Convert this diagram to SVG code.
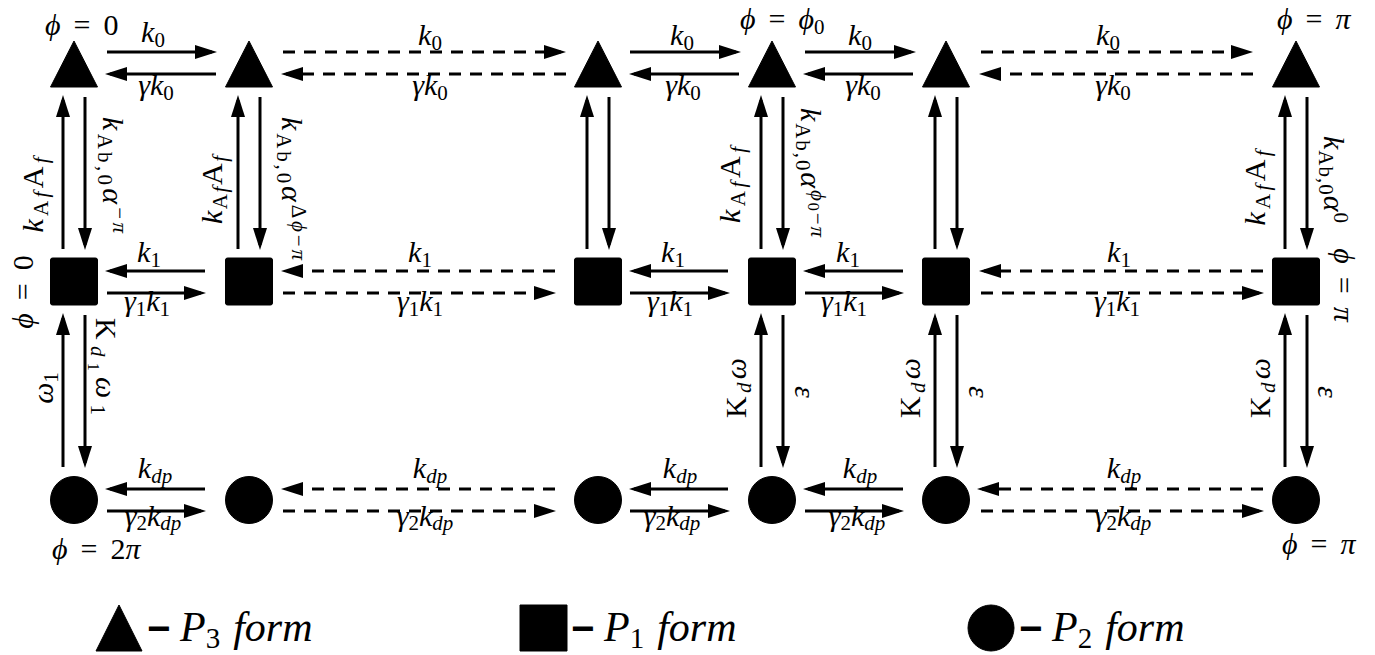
<svg xmlns="http://www.w3.org/2000/svg" width="1375" height="655" viewBox="0 0 1375 655">
<defs>
<marker id="ah" markerUnits="userSpaceOnUse" markerWidth="24" markerHeight="16" viewBox="0 -8 24 16" refX="17" refY="0" orient="auto"><path d="M0,-7 L22,0 L0,7 z" fill="#000"/></marker>
<style>
.n{fill:#000;stroke:#000;stroke-width:1;stroke-linejoin:round}
.a{stroke:#000;stroke-width:3;fill:none;marker-end:url(#ah)}
.d{stroke-dasharray:12 9}
.t{font-family:"Liberation Serif","DejaVu Serif",serif;font-size:30px;font-style:italic;fill:#000}
.r{font-style:normal}
.s{font-size:21px}
.ss{font-size:16px}
.p{font-size:30px}
.l{font-size:42px}
.ls{font-size:29px}
.m{font-family:"Liberation Sans","DejaVu Sans",sans-serif;font-weight:bold;font-style:normal;font-size:40px}
</style>
</defs>
<rect width="1375" height="655" fill="#fff"/>

<g id="t1"><polygon class="n" points="74,41 50.5,87 97.5,87"/></g>
<g id="t2"><polygon class="n" points="249,41 225.5,87 272.5,87"/></g>
<g id="t3"><polygon class="n" points="598,41 574.5,87 621.5,87"/></g>
<g id="t4"><polygon class="n" points="772,41 748.5,87 795.5,87"/></g>
<g id="t5"><polygon class="n" points="946,41 922.5,87 969.5,87"/></g>
<g id="t6"><polygon class="n" points="1296,41 1272.5,87 1319.5,87"/></g>

<g id="s1"><rect class="n" x="50.5" y="258" width="47" height="47" rx="2"/></g>
<g id="s2"><rect class="n" x="225.5" y="258" width="47" height="47" rx="2"/></g>
<g id="s3"><rect class="n" x="574.5" y="258" width="47" height="47" rx="2"/></g>
<g id="s4"><rect class="n" x="748.5" y="258" width="47" height="47" rx="2"/></g>
<g id="s5"><rect class="n" x="922.5" y="258" width="47" height="47" rx="2"/></g>
<g id="s6"><rect class="n" x="1272.5" y="258" width="47" height="47" rx="2"/></g>

<g id="c1"><circle class="n" cx="74" cy="500" r="23.5"/></g>
<g id="c2"><circle class="n" cx="249" cy="500" r="23.5"/></g>
<g id="c3"><circle class="n" cx="598" cy="500" r="23.5"/></g>
<g id="c4"><circle class="n" cx="772" cy="500" r="23.5"/></g>
<g id="c5"><circle class="n" cx="946" cy="500" r="23.5"/></g>
<g id="c6"><circle class="n" cx="1296" cy="500" r="23.5"/></g>

<g id="connectors">
<line class="a" x1="107" y1="52" x2="212" y2="52"/>
<line class="a" x1="216" y1="74" x2="110" y2="74"/>
<line class="a d" x1="283" y1="52" x2="561" y2="52"/>
<line class="a d" x1="566" y1="74" x2="286" y2="74"/>
<line class="a" x1="630" y1="52" x2="736" y2="52"/>
<line class="a" x1="739" y1="74" x2="634" y2="74"/>
<line class="a" x1="805" y1="52" x2="911" y2="52"/>
<line class="a" x1="913" y1="74" x2="808" y2="74"/>
<line class="a d" x1="981" y1="52" x2="1248" y2="52"/>
<line class="a d" x1="1253" y1="74" x2="984" y2="74"/>
<line class="a" x1="205" y1="271" x2="110" y2="271"/>
<line class="a" x1="107" y1="293" x2="201" y2="293"/>
<line class="a d" x1="555" y1="271" x2="286" y2="271"/>
<line class="a d" x1="283" y1="293" x2="551" y2="293"/>
<line class="a" x1="728" y1="271" x2="634" y2="271"/>
<line class="a" x1="630" y1="293" x2="725" y2="293"/>
<line class="a" x1="903" y1="271" x2="808" y2="271"/>
<line class="a" x1="805" y1="293" x2="899" y2="293"/>
<line class="a d" x1="1263" y1="271" x2="984" y2="271"/>
<line class="a d" x1="981" y1="293" x2="1259" y2="293"/>
<line class="a" x1="205" y1="489" x2="110" y2="489"/>
<line class="a" x1="107" y1="511" x2="201" y2="511"/>
<line class="a d" x1="555" y1="489" x2="286" y2="489"/>
<line class="a d" x1="283" y1="511" x2="551" y2="511"/>
<line class="a" x1="728" y1="489" x2="634" y2="489"/>
<line class="a" x1="630" y1="511" x2="725" y2="511"/>
<line class="a" x1="903" y1="489" x2="808" y2="489"/>
<line class="a" x1="805" y1="511" x2="899" y2="511"/>
<line class="a d" x1="1263" y1="489" x2="982" y2="489"/>
<line class="a d" x1="981" y1="511" x2="1259" y2="511"/>
<line class="a" x1="63" y1="249" x2="63" y2="100"/>
<line class="a" x1="85" y1="97" x2="85" y2="245"/>
<line class="a" x1="238" y1="249" x2="238" y2="100"/>
<line class="a" x1="260" y1="97" x2="260" y2="245"/>
<line class="a" x1="587" y1="249" x2="587" y2="100"/>
<line class="a" x1="609" y1="97" x2="609" y2="245"/>
<line class="a" x1="761" y1="249" x2="761" y2="100"/>
<line class="a" x1="783" y1="97" x2="783" y2="245"/>
<line class="a" x1="935" y1="249" x2="935" y2="100"/>
<line class="a" x1="957" y1="97" x2="957" y2="245"/>
<line class="a" x1="1285" y1="249" x2="1285" y2="100"/>
<line class="a" x1="1307" y1="97" x2="1307" y2="245"/>
<line class="a" x1="63" y1="467" x2="63" y2="318"/>
<line class="a" x1="85" y1="315" x2="85" y2="463"/>
<line class="a" x1="761" y1="467" x2="761" y2="318"/>
<line class="a" x1="783" y1="315" x2="783" y2="463"/>
<line class="a" x1="935" y1="467" x2="935" y2="318"/>
<line class="a" x1="957" y1="315" x2="957" y2="463"/>
<line class="a" x1="1285" y1="467" x2="1285" y2="318"/>
<line class="a" x1="1307" y1="315" x2="1307" y2="463"/>
</g>

<g id="edge-labels" class="t">
<text x="153" y="42" text-anchor="middle">k<tspan class="s r" dy="5">0</tspan></text>
<text x="156" y="95" text-anchor="middle">γk<tspan class="s r" dy="5">0</tspan></text>
<text x="430" y="45" text-anchor="middle">k<tspan class="s r" dy="5">0</tspan></text>
<text x="430" y="95" text-anchor="middle">γk<tspan class="s r" dy="5">0</tspan></text>
<text x="682" y="45" text-anchor="middle">k<tspan class="s r" dy="5">0</tspan></text>
<text x="683" y="95" text-anchor="middle">γk<tspan class="s r" dy="5">0</tspan></text>
<text x="860" y="45" text-anchor="middle">k<tspan class="s r" dy="5">0</tspan></text>
<text x="863" y="95" text-anchor="middle">γk<tspan class="s r" dy="5">0</tspan></text>
<text x="1108" y="45" text-anchor="middle">k<tspan class="s r" dy="5">0</tspan></text>
<text x="1113" y="95" text-anchor="middle">γk<tspan class="s r" dy="5">0</tspan></text>
<text x="149" y="262" text-anchor="middle">k<tspan class="s r" dy="5">1</tspan></text>
<text x="147" y="311" text-anchor="middle">γ<tspan class="s r" dy="5">1</tspan><tspan dy="-5">k</tspan><tspan class="s r" dy="5">1</tspan></text>
<text x="420" y="262" text-anchor="middle">k<tspan class="s r" dy="5">1</tspan></text>
<text x="420" y="311" text-anchor="middle">γ<tspan class="s r" dy="5">1</tspan><tspan dy="-5">k</tspan><tspan class="s r" dy="5">1</tspan></text>
<text x="673" y="262" text-anchor="middle">k<tspan class="s r" dy="5">1</tspan></text>
<text x="670" y="311" text-anchor="middle">γ<tspan class="s r" dy="5">1</tspan><tspan dy="-5">k</tspan><tspan class="s r" dy="5">1</tspan></text>
<text x="848" y="262" text-anchor="middle">k<tspan class="s r" dy="5">1</tspan></text>
<text x="844" y="311" text-anchor="middle">γ<tspan class="s r" dy="5">1</tspan><tspan dy="-5">k</tspan><tspan class="s r" dy="5">1</tspan></text>
<text x="1119" y="262" text-anchor="middle">k<tspan class="s r" dy="5">1</tspan></text>
<text x="1117" y="311" text-anchor="middle">γ<tspan class="s r" dy="5">1</tspan><tspan dy="-5">k</tspan><tspan class="s r" dy="5">1</tspan></text>
<text x="155" y="478" text-anchor="middle">k<tspan class="s" dy="5">dp</tspan></text>
<text x="153" y="526" text-anchor="middle">γ<tspan class="s r" dy="4">2</tspan><tspan dy="-4">k</tspan><tspan class="s" dy="4">dp</tspan></text>
<text x="430" y="478" text-anchor="middle">k<tspan class="s" dy="5">dp</tspan></text>
<text x="425" y="526" text-anchor="middle">γ<tspan class="s r" dy="4">2</tspan><tspan dy="-4">k</tspan><tspan class="s" dy="4">dp</tspan></text>
<text x="680" y="478" text-anchor="middle">k<tspan class="s" dy="5">dp</tspan></text>
<text x="672" y="526" text-anchor="middle">γ<tspan class="s r" dy="4">2</tspan><tspan dy="-4">k</tspan><tspan class="s" dy="4">dp</tspan></text>
<text x="860" y="478" text-anchor="middle">k<tspan class="s" dy="5">dp</tspan></text>
<text x="857" y="526" text-anchor="middle">γ<tspan class="s r" dy="4">2</tspan><tspan dy="-4">k</tspan><tspan class="s" dy="4">dp</tspan></text>
<text x="1124" y="478" text-anchor="middle">k<tspan class="s" dy="5">dp</tspan></text>
<text x="1123" y="526" text-anchor="middle">γ<tspan class="s r" dy="4">2</tspan><tspan dy="-4">k</tspan><tspan class="s" dy="4">dp</tspan></text>
<text transform="translate(43,195) rotate(-90)" text-anchor="middle" textLength="75" lengthAdjust="spacing">k<tspan class="s r" dy="5">A</tspan><tspan class="s">f</tspan><tspan class="r" dy="-5">A</tspan><tspan class="s" dy="5">f</tspan></text>
<text transform="translate(103,117) rotate(90)" textLength="116" lengthAdjust="spacing">k<tspan class="s r" dy="5">Ab,0</tspan><tspan dy="-5">α</tspan><tspan class="s r" dy="-10">−</tspan><tspan class="s">π</tspan></text>
<text transform="translate(222,190) rotate(-90)" text-anchor="middle" textLength="68" lengthAdjust="spacing">k<tspan class="s r" dy="5">A</tspan><tspan class="s">f</tspan><tspan class="r" dy="-5">A</tspan><tspan class="s" dy="5">f</tspan></text>
<text transform="translate(282,117) rotate(90)" textLength="143" lengthAdjust="spacing">k<tspan class="s r" dy="5">Ab,0</tspan><tspan dy="-5">α</tspan><tspan class="s r" dy="-10">Δ</tspan><tspan class="s">ϕ</tspan><tspan class="s r">−</tspan><tspan class="s">π</tspan></text>
<text transform="translate(740,185) rotate(-90)" text-anchor="middle" textLength="76" lengthAdjust="spacing">k<tspan class="s r" dy="5">A</tspan><tspan class="s">f</tspan><tspan class="r" dy="-5">A</tspan><tspan class="s" dy="5">f</tspan></text>
<text transform="translate(801,108) rotate(90)" textLength="129" lengthAdjust="spacing">k<tspan class="s r" dy="5">Ab,0</tspan><tspan dy="-5">α</tspan><tspan class="s" dy="-10">ϕ</tspan><tspan class="ss r" dy="3">0</tspan><tspan class="s r" dy="-3">−</tspan><tspan class="s">π</tspan></text>
<text transform="translate(1265,188) rotate(-90)" text-anchor="middle" textLength="75" lengthAdjust="spacing">k<tspan class="s r" dy="5">A</tspan><tspan class="s">f</tspan><tspan class="r" dy="-5">A</tspan><tspan class="s" dy="5">f</tspan></text>
<text transform="translate(1324,136) rotate(90)" textLength="87" lengthAdjust="spacing">k<tspan class="s r" dy="5">Ab,0</tspan><tspan dy="-5">α</tspan><tspan class="s r" dy="-10">0</tspan></text>
<text transform="translate(53,388) rotate(-90)" text-anchor="middle">ω<tspan class="s r" dy="5">1</tspan></text>
<text transform="translate(96,318) rotate(90)" textLength="97" lengthAdjust="spacing"><tspan class="r">K</tspan><tspan class="s" dy="5">d</tspan><tspan class="ss r" dy="3">1</tspan><tspan dy="-8">ω</tspan><tspan class="s r" dy="5">1</tspan></text>
<text transform="translate(746,388) rotate(-90)" text-anchor="middle" textLength="60" lengthAdjust="spacing"><tspan class="r">K</tspan><tspan class="s" dy="5">d</tspan><tspan dy="-5">ω</tspan></text>
<text transform="translate(795,392) rotate(90)" text-anchor="middle">ε</text>
<text transform="translate(920,388) rotate(-90)" text-anchor="middle" textLength="60" lengthAdjust="spacing"><tspan class="r">K</tspan><tspan class="s" dy="5">d</tspan><tspan dy="-5">ω</tspan></text>
<text transform="translate(969,392) rotate(90)" text-anchor="middle">ε</text>
<text transform="translate(1270,388) rotate(-90)" text-anchor="middle" textLength="60" lengthAdjust="spacing"><tspan class="r">K</tspan><tspan class="s" dy="5">d</tspan><tspan dy="-5">ω</tspan></text>
<text transform="translate(1318,392) rotate(90)" text-anchor="middle">ε</text>
</g>

<g id="node-labels" class="t p">
<text x="45" y="35">ϕ<tspan class="r" dx="13">=</tspan><tspan class="r" dx="13">0</tspan></text>
<text x="740" y="29">ϕ<tspan class="r" dx="13">=</tspan><tspan dx="13">ϕ</tspan><tspan class="s r" dy="5">0</tspan></text>
<text x="1277" y="29">ϕ<tspan class="r" dx="13">=</tspan><tspan dx="13">π</tspan></text>
<text x="52" y="559">ϕ<tspan class="r" dx="13">=</tspan><tspan class="r" dx="13">2</tspan><tspan>π</tspan></text>
<text x="1282" y="554">ϕ<tspan class="r" dx="13">=</tspan><tspan dx="13">π</tspan></text>
<text transform="translate(33,292) rotate(-90)" text-anchor="middle">ϕ<tspan class="r" dx="13">=</tspan><tspan class="r" dx="13">0</tspan></text>
<text transform="translate(1334,285) rotate(90)" text-anchor="middle">ϕ<tspan class="r" dx="13">=</tspan><tspan dx="13">π</tspan></text>
</g>

<g id="legend">
<g id="legend-p3"><polygon class="n" points="119,605 96,651 142,651"/><text class="t m" x="147" y="642">−</text><text class="t l" x="180" y="641">P<tspan class="ls r" dy="7">3</tspan><tspan dy="-7" dx="13">form</tspan></text></g>
<g id="legend-p1"><rect class="n" x="520" y="605" width="47" height="46"/><text class="t m" x="571" y="642">−</text><text class="t l" x="604" y="641">P<tspan class="ls r" dy="7">1</tspan><tspan dy="-7" dx="13">form</tspan></text></g>
<g id="legend-p2"><circle class="n" cx="991" cy="628" r="23"/><text class="t m" x="1019" y="642">−</text><text class="t l" x="1052" y="641">P<tspan class="ls r" dy="7">2</tspan><tspan dy="-7" dx="13">form</tspan></text></g>
</g>
</svg>
